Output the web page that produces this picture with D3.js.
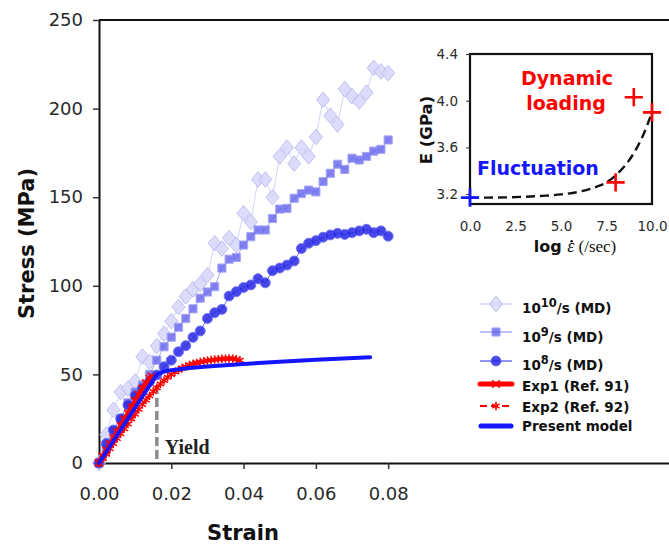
<!DOCTYPE html>
<html>
<head>
<meta charset="utf-8">
<script src="https://cdn.jsdelivr.net/npm/d3@7"></script>
<style>
  html, body { margin: 0; padding: 0; background: #fff; }
  svg { display: block; }
</style>
</head>
<body>
<svg id="chart" width="669" height="546"></svg>
<script>
// ---- strain grid shared by the MD runs ----
const mdStrain = [0,0.002,0.004,0.006,0.008,0.010,0.012,0.014,0.016,0.018,0.020,
  0.022,0.024,0.026,0.028,0.030,0.032,0.034,0.036,0.038,0.040,0.042,0.044,0.046,
  0.048,0.050,0.052,0.054,0.056,0.058,0.060,0.062,0.064,0.066,0.068,0.070,0.072,
  0.074,0.076,0.078,0.080];

// stress (MPa) from MD at each strain rate
const md1e10 = [0,16,30,40,42,46,60,57,66,73,80,88,94,98,101,106,124,121,127,123,141,
  136,160,160,150,173,178,169,178,173,184,205,196,191,211,207,204,209,223,221,220];
const md1e9 = [0,8,18,25,34,40,44,50,58,65.6,71,76.6,81.6,87,93,96.5,99.5,110,115,116,123,
  127.7,131.5,131.5,138,143.3,143.7,149.4,152,154,153,158.8,163.5,168.6,165.7,172,171,173,176,177,182.3];
const md1e8 = [0,11,18.6,25,32.7,38,42,46,49.7,54.3,58,62.8,66.2,70.9,74.5,81.6,84.8,86.7,94.2,96.7,99,
  100.5,104,101.7,108.5,110,111.7,114,121,124,125.5,127.4,128.7,129.6,129,130,131,131.9,130,131,128];

// experiments
const exp1Strain = [0,0.001,0.002,0.003,0.004,0.005,0.006,0.007,0.008,0.009,0.010,0.011,0.012,0.013,0.014,0.0146];
const exp1Stress = [0,3.6,7,10.5,14,17.4,21,24.5,28,31.4,35,38.4,42,45,47.5,48.7];
const exp2Strain = [0,0.001,0.002,0.003,0.004,0.005,0.006,0.007,0.008,0.009,0.010,0.011,0.012,0.013,0.014,
  0.015,0.016,0.017,0.018,0.019,0.020,0.021,0.022,0.023,0.024,0.025,0.026,0.027,0.028,0.029,0.030,
  0.031,0.032,0.033,0.034,0.035,0.036,0.037,0.038,0.039];
const exp2Stress = [0,2.4,5,8,11,13.8,16.5,19.3,22,24.8,27.5,30.3,33,35.6,38,40.3,42.5,44.6,46.5,48.4,50,
  51.3,52.5,53.6,54.5,55.3,56,56.5,57,57.4,57.8,58.1,58.4,58.6,58.8,58.9,59,58.9,58.6,58];

// constitutive model
const modelStrain = [0,0.016,0.018,0.020,0.025,0.030,0.040,0.050,0.060,0.075];
const modelStress = [0,50,51.6,52.4,53.6,54.5,55.9,57.2,58.3,59.7];
const yieldStrain = 0.016;
const yieldStress = 44;

// axis ticks
const stressTicks = [0,50,100,150,200,250];
const strainTicks = [0,0.02,0.04,0.06,0.08];

// inset: Young's modulus vs log strain rate
const insetLogRate = [0,2.5,5,7.5,10];
const insetETicks = [3.2,3.6,4.0,4.4];
const fluctLogRate = [0];
const fluctE = [3.17];
const dynLogRate = [8,9,10];
const dynE = [3.3,4.03,3.9];
const fitLogRate = [0,1,2,3,4,5,6,7,7.5,8,8.5,9,9.5,10];
const fitE = [3.17,3.17,3.172,3.177,3.185,3.197,3.22,3.265,3.3,3.36,3.44,3.55,3.7,3.9];

const zip = (xs, ys) => xs.map((v, i) => [v, ys[i]]);

const svg = d3.select("#chart");
const sans = "'DejaVu Sans', Verdana, sans-serif";
const serif = "'Liberation Serif', 'Times New Roman', serif";

// ---- main panel scales ----
const x = d3.scaleLinear().domain([0, 0.1577]).range([99, 669]);
const y = d3.scaleLinear().domain([0, 250]).range([463, 20]);

// top frame line
svg.append("line")
  .attr("x1", x(0)).attr("x2", x(0.1577))
  .attr("y1", y(250)).attr("y2", y(250))
  .attr("stroke", "#111").attr("stroke-width", 2);

const yAxis = svg.append("g").attr("transform", `translate(${x(0)},0)`)
  .call(d3.axisLeft(y).tickValues(stressTicks).tickSize(6).tickSizeOuter(0).tickPadding(10));
const xAxis = svg.append("g").attr("transform", `translate(0,${y(0)})`)
  .call(d3.axisBottom(x).tickValues(strainTicks).tickFormat(d3.format(".2f"))
    .tickSize(6).tickSizeOuter(0).tickPadding(18));
[yAxis, xAxis].forEach(g => {
  g.select(".domain").attr("stroke", "#111").attr("stroke-width", 2);
  g.selectAll(".tick line").attr("stroke", "#333").attr("stroke-width", 1.5);
  g.selectAll(".tick text").attr("font-family", sans).attr("font-size", 18).attr("fill", "#2a2a2a");
});

svg.append("text")
  .attr("transform", `translate(34,${(y(0) + y(250)) / 2 + 2}) rotate(-90)`)
  .attr("text-anchor", "middle")
  .attr("font-family", sans).attr("font-weight", "bold").attr("font-size", 21)
  .attr("fill", "#111").text("Stress (MPa)");
svg.append("text")
  .attr("x", 243).attr("y", 540)
  .attr("text-anchor", "middle")
  .attr("font-family", sans).attr("font-weight", "bold").attr("font-size", 21)
  .attr("fill", "#111").text("Strain");

const line = d3.line().x(d => x(d[0])).y(d => y(d[1]));

// ---- MD series styles ----
const mdSeries = [
  { vals: md1e10, lineColor: "#d4d4fb", sym: d3.symbolDiamond, size: 70, sx: 1.45, sy: 1.0,
    fill: "#d8d8fb", stroke: "#b4b4f2", op: 0.85 },
  { vals: md1e9,  lineColor: "#a8a8f6", sym: d3.symbolSquare,  size: 66, sx: 1, sy: 1,
    fill: "#6464ee", stroke: "#9090f4", op: 0.8 },
  { vals: md1e8,  lineColor: "#7070f0", sym: d3.symbolCircle,  size: 78, sx: 1, sy: 1,
    fill: "#2626e6", stroke: "#5a5af0", op: 0.85 }
];

mdSeries.forEach(s => {
  const pts = zip(mdStrain, s.vals);
  svg.append("path").datum(pts)
    .attr("d", line).attr("fill", "none")
    .attr("stroke", s.lineColor).attr("stroke-width", 1);
  svg.append("g").selectAll("path").data(pts).join("path")
    .attr("transform", d => `translate(${x(d[0])},${y(d[1])}) scale(${s.sx},${s.sy})`)
    .attr("d", d3.symbol(s.sym, s.size))
    .attr("fill", s.fill).attr("stroke", s.stroke).attr("stroke-width", 1)
    .attr("vector-effect", "non-scaling-stroke")
    .attr("opacity", s.op);
});

// yield marker
svg.append("line")
  .attr("x1", x(yieldStrain)).attr("x2", x(yieldStrain))
  .attr("y1", y(yieldStress)).attr("y2", y(0))
  .attr("stroke", "#8c8c8c").attr("stroke-width", 3.5)
  .attr("stroke-dasharray", "9,4");
svg.append("text")
  .attr("x", x(yieldStrain) + 8).attr("y", 454)
  .attr("font-family", serif).attr("font-weight", "bold").attr("font-size", 20)
  .attr("fill", "#222").text("Yield");

// Exp1: thick red line with small crosses
const exp1 = zip(exp1Strain, exp1Stress);
svg.append("path").datum(exp1).attr("d", line).attr("fill", "none")
  .attr("stroke", "#ff0000").attr("stroke-width", 5).attr("stroke-linecap", "round");
svg.append("g").selectAll("path").data(exp1).join("path")
  .attr("transform", d => `translate(${x(d[0])},${y(d[1])})`)
  .attr("d", d3.symbol(d3.symbolTimes, 40))
  .attr("fill", "none").attr("stroke", "#ff0000").attr("stroke-width", 1.6);

// Exp2: dashed red line with star markers
const exp2 = zip(exp2Strain, exp2Stress);
svg.append("path").datum(exp2).attr("d", line).attr("fill", "none")
  .attr("stroke", "#ff0000").attr("stroke-width", 1.8).attr("stroke-dasharray", "6,3");
svg.append("g").selectAll("path").data(exp2).join("path")
  .attr("transform", d => `translate(${x(d[0])},${y(d[1])})`)
  .attr("d", d3.symbol(d3.symbolAsterisk, 50))
  .attr("fill", "none").attr("stroke", "#ff0000").attr("stroke-width", 1.5);

// present model
svg.append("path").datum(zip(modelStrain, modelStress)).attr("d", line)
  .attr("fill", "none").attr("stroke", "#1515ff").attr("stroke-width", 4)
  .attr("stroke-linejoin", "round").attr("stroke-linecap", "round");

// ---- legend ----
const legend = [
  { base: "10", sup: "10", rest: "/s (MD)", y: 313, my: 304, kind: "md", s: mdSeries[0] },
  { base: "10", sup: "9",  rest: "/s (MD)", y: 342, my: 332, kind: "md", s: mdSeries[1] },
  { base: "10", sup: "8",  rest: "/s (MD)", y: 370, my: 361, kind: "md", s: mdSeries[2] },
  { text: "Exp1 (Ref. 91)", y: 391, my: 384, kind: "exp1" },
  { text: "Exp2 (Ref. 92)", y: 412, my: 406, kind: "exp2" },
  { text: "Present model", y: 431, my: 426, kind: "model" }
];
const lg = svg.append("g");
legend.forEach(it => {
  const g = lg.append("g");
  if (it.kind === "md") {
    g.append("line").attr("x1", 480).attr("x2", 512).attr("y1", it.my).attr("y2", it.my)
      .attr("stroke", it.s.lineColor).attr("stroke-width", 1.5);
    g.append("path").attr("transform", `translate(496,${it.my}) scale(${it.s.sx},${it.s.sy})`)
      .attr("d", d3.symbol(it.s.sym, it.s.size))
      .attr("vector-effect", "non-scaling-stroke")
      .attr("fill", it.s.fill).attr("stroke", it.s.stroke).attr("opacity", it.s.op);
  } else if (it.kind === "exp1") {
    g.append("line").attr("x1", 480).attr("x2", 512).attr("y1", it.my).attr("y2", it.my)
      .attr("stroke", "#ff0000").attr("stroke-width", 5).attr("stroke-linecap", "round");
    g.append("path").attr("transform", `translate(496,${it.my})`)
      .attr("d", d3.symbol(d3.symbolTimes, 40)).attr("fill", "none")
      .attr("stroke", "#ff0000").attr("stroke-width", 1.5);
  } else if (it.kind === "exp2") {
    g.append("line").attr("x1", 480).attr("x2", 512).attr("y1", it.my).attr("y2", it.my)
      .attr("stroke", "#ff0000").attr("stroke-width", 1.8).attr("stroke-dasharray", "7,4");
    g.append("path").attr("transform", `translate(496,${it.my})`)
      .attr("d", d3.symbol(d3.symbolAsterisk, 50)).attr("fill", "none")
      .attr("stroke", "#ff0000").attr("stroke-width", 1.6);
  } else {
    g.append("line").attr("x1", 481).attr("x2", 511).attr("y1", it.my).attr("y2", it.my)
      .attr("stroke", "#1515ff").attr("stroke-width", 5).attr("stroke-linecap", "round");
  }
  const t = g.append("text").attr("x", 522).attr("y", it.y)
    .attr("font-family", sans).attr("font-weight", "bold").attr("font-size", 13.5)
    .attr("fill", "#111");
  if (it.kind === "md") {
    t.append("tspan").text(it.base);
    t.append("tspan").attr("dy", -6).attr("font-size", 11.5).text(it.sup);
    t.append("tspan").attr("dy", 6).text(it.rest);
  } else {
    t.text(it.text);
  }
});

// ---- inset ----
const ix = d3.scaleLinear().domain([0, 10]).range([470, 652]);
const iy = d3.scaleLinear().domain([3.115, 4.4]).range([204, 54]);

svg.append("rect")
  .attr("x", ix(0)).attr("y", iy(4.4))
  .attr("width", ix(10) - ix(0)).attr("height", iy(3.115) - iy(4.4))
  .attr("fill", "#fff").attr("stroke", "#111").attr("stroke-width", 2.2);

const iyAxis = svg.append("g").attr("transform", `translate(${ix(0)},0)`)
  .call(d3.axisLeft(iy).tickValues(insetETicks).tickFormat(d3.format(".1f"))
    .tickSize(4).tickSizeOuter(0).tickPadding(8));
const ixAxis = svg.append("g").attr("transform", `translate(0,${iy(3.115)})`)
  .call(d3.axisBottom(ix).tickValues(insetLogRate).tickFormat(d3.format(".1f"))
    .tickSize(0).tickSizeOuter(0).tickPadding(17));
[iyAxis, ixAxis].forEach(g => {
  g.select(".domain").remove();
  g.selectAll(".tick line").attr("stroke", "#333");
  g.selectAll(".tick text").attr("font-family", sans).attr("font-size", 13.5).attr("fill", "#2a2a2a");
});

svg.append("text")
  .attr("transform", `translate(432,130) rotate(-90)`)
  .attr("text-anchor", "middle")
  .attr("font-family", sans).attr("font-weight", "bold").attr("font-size", 16.5)
  .attr("fill", "#111").text("E (GPa)");

// x label of inset: "log ε̇ (/sec)" with the rate dot drawn over the epsilon
const xl = svg.append("text").attr("x", 575).attr("y", 252).attr("text-anchor", "middle")
  .attr("fill", "#111");
xl.append("tspan").attr("font-family", sans).attr("font-weight", "bold").attr("font-size", 16).text("log ");
xl.append("tspan").attr("font-family", serif).attr("font-style", "italic")
  .attr("font-size", 18).text("\u03B5");
xl.append("tspan").attr("font-family", serif).attr("font-size", 17).text(" (/sec)");
{
  const node = xl.node();
  const idx = "log ".length;
  const ext = node.getExtentOfChar(idx);
  svg.append("circle")
    .attr("cx", ext.x + ext.width * 0.62).attr("cy", ext.y + ext.height * 0.26)
    .attr("r", 1.3).attr("fill", "#111");
}

const iline = d3.line().x(d => ix(d[0])).y(d => iy(d[1])).curve(d3.curveMonotoneX);
svg.append("path").datum(zip(fitLogRate, fitE)).attr("d", iline)
  .attr("fill", "none").attr("stroke", "#111").attr("stroke-width", 2.4)
  .attr("stroke-dasharray", "9,5");

svg.append("g").selectAll("path").data(zip(dynLogRate, dynE)).join("path")
  .attr("transform", d => `translate(${ix(d[0])},${iy(d[1])})`)
  .attr("d", d3.symbol(d3.symbolPlus, 110))
  .attr("fill", "none").attr("stroke", "#ff0000").attr("stroke-width", 2.6);
svg.append("g").selectAll("path").data(zip(fluctLogRate, fluctE)).join("path")
  .attr("transform", d => `translate(${ix(d[0])},${iy(d[1])})`)
  .attr("d", d3.symbol(d3.symbolPlus, 110))
  .attr("fill", "none").attr("stroke", "#1515ff").attr("stroke-width", 2.8);

svg.append("text").attr("x", 567).attr("y", 85).attr("text-anchor", "middle")
  .attr("font-family", sans).attr("font-weight", "bold").attr("font-size", 19)
  .attr("fill", "#ff0000").text("Dynamic");
svg.append("text").attr("x", 566).attr("y", 110).attr("text-anchor", "middle")
  .attr("font-family", sans).attr("font-weight", "bold").attr("font-size", 19)
  .attr("fill", "#ff0000").text("loading");
svg.append("text").attr("x", 477).attr("y", 175)
  .attr("font-family", sans).attr("font-weight", "bold").attr("font-size", 19)
  .attr("fill", "#1515ff").text("Fluctuation");
</script>
</body>
</html>
